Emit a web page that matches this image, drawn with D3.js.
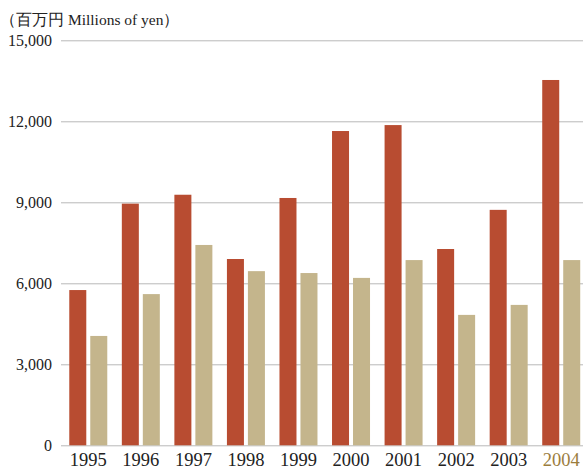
<!DOCTYPE html>
<html>
<head>
<meta charset="utf-8">
<script src="https://cdn.jsdelivr.net/npm/d3@7"></script>
<style>
  body { margin: 0; background: #fff; }
  text { font-family: "Liberation Serif", "Times New Roman", serif; }
</style>
</head>
<body>
<div id="chart"></div>
<script>
// Data
var years = ["1995", "1996", "1997", "1998", "1999", "2000", "2001", "2002", "2003", "2004"];
var seriesA = [5750, 8950, 9280, 6900, 9160, 11640, 11860, 7270, 8720, 13530];
var seriesB = [4050, 5600, 7420, 6450, 6380, 6200, 6860, 4830, 5200, 6860];
var yTicks = [0, 3000, 6000, 9000, 12000, 15000];

var svgWidth = 583;
var svgHeight = 469;

var svg = d3.select("#chart")
  .append("svg")
  .attr("width", svgWidth)
  .attr("height", svgHeight);

// scales
var x0 = d3.scaleBand()
  .domain(years)
  .range([62, 587.5])
  .paddingInner(0.277)
  .paddingOuter(0.1385);

var x1 = d3.scaleBand()
  .domain(["a", "b"])
  .range([0, x0.bandwidth()])
  .paddingInner(0.19);

var y = d3.scaleLinear()
  .domain([0, 15000])
  .range([445.3, 40.3]);

// gridlines + y labels
var leftAxis = d3.axisLeft(y)
  .tickValues(yTicks)
  .tickSizeInner(-(svgWidth - 61))
  .tickSizeOuter(0)
  .tickPadding(9)
  .tickFormat(d3.format(","));

var yAxis = svg.append("g")
  .attr("transform", "translate(61,0)")
  .call(leftAxis);

yAxis.select(".domain").remove();
yAxis.selectAll("line").attr("stroke", "#b8b8b8").attr("stroke-width", 1);
yAxis.selectAll("text")
  .attr("font-size", "16px")
  .attr("font-family", "'Liberation Serif', serif")
  .style("fill", "#222");

// bars
var groups = svg.selectAll(".year")
  .data(years)
  .enter()
  .append("g")
  .attr("transform", d => `translate(${x0(d)},0)`);

groups.append("rect")
  .attr("x", x1("a"))
  .attr("width", x1.bandwidth())
  .attr("y", (d, i) => y(seriesA[i]))
  .attr("height", (d, i) => y(0) - y(seriesA[i]))
  .attr("fill", "#b84c31");

groups.append("rect")
  .attr("x", x1("b"))
  .attr("width", x1.bandwidth())
  .attr("y", (d, i) => y(seriesB[i]))
  .attr("height", (d, i) => y(0) - y(seriesB[i]))
  .attr("fill", "#c4b58c");

// x labels
var bottomAxis = d3.axisBottom(x0).tickSize(0).tickPadding(0);
var xAxis = svg.append("g")
  .attr("transform", "translate(0,451)")
  .call(bottomAxis);
xAxis.select(".domain").remove();
xAxis.selectAll("text")
  .attr("dy", "0.8em")
  .attr("font-size", "18.5px")
  .attr("font-family", "'Liberation Serif', serif")
  .style("fill", d => d === "2004" ? "#9b7d3d" : "#222");

// unit label
svg.append("text")
  .attr("x", 0)
  .attr("y", 25)
  .attr("font-size", "15.5px")
  .style("fill", "#222")
  .text("（百万円 Millions of yen）");
</script>
</body>
</html>
